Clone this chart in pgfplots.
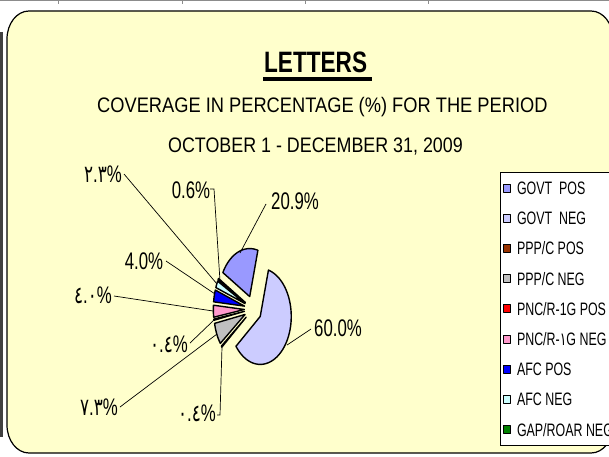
\documentclass[border=0pt]{standalone}
\usepackage{graphicx}
\usepackage{fontspec}
\setmainfont{Liberation Sans}
\newfontfamily\arabicfont[Script=Arabic]{DejaVu Sans}
\usepackage{pgfplots}
\pgfplotsset{compat=1.18}
\definecolor{bgyellow}{HTML}{FFFFCC}
\definecolor{govtpos}{HTML}{9999FF}
\definecolor{govtneg}{HTML}{CCCCFF}
\definecolor{pppcpos}{HTML}{993300}
\definecolor{pppcneg}{HTML}{C0C0C0}
\definecolor{pncpos}{HTML}{FF0000}
\definecolor{pncneg}{HTML}{FF99CC}
\definecolor{afcpos}{HTML}{0000FF}
\definecolor{afcneg}{HTML}{CCFFFF}
\definecolor{gapneg}{HTML}{008000}
% pie geometry (1pt = 1px)
\def\pcx{253}\def\pcy{147}\def\pra{31}\def\prb{48}\def\pex{0.28}\def\ptot{99.9}\def\pstart{150}
\def\cum{0}
\newcommand\pieslice[3]{%
  \pgfmathsetmacro\sA{\pstart-\cum/\ptot*360}%
  \pgfmathsetmacro\cum{\cum+#2}%
  \pgfmathsetmacro\sB{\pstart-\cum/\ptot*360}%
  \pgfmathsetmacro\sM{(\sA+\sB)/2}%
  \pgfmathsetmacro\sX{\pcx+\pex*\pra*cos(\sM)}%
  \pgfmathsetmacro\sY{\pcy+\pex*\prb*sin(\sM)}%
  \edef\tmp{\noexpand\addplot[draw=black,line width=1.4pt,line join=round,fill=#1,domain=\sB:\sA,samples=60] ({\sX+\pra*cos(x)},{\sY+\prb*sin(x)}) -- (axis cs:\sX,\sY) -- cycle;}%
  \tmp
  \addlegendentry{\scalebox{0.69}[1]{#3}}%
}
\newcommand\ar[1]{{\arabicfont #1}}
\newcommand\plab[3]{\node[font=\fontsize{24}{26}\selectfont, xscale=0.7, inner sep=0pt] at (#1,456-#2) {#3};}
\begin{document}
\begin{tikzpicture}[x=1pt,y=1pt]
\useasboundingbox (0,0) rectangle (609,456);
\clip (0,0) rectangle (609,456);
\fill[white] (0,0) rectangle (609,456);
\draw[black!45, line width=1.2pt] (0,455.4) -- (609,455.4);
\foreach \xx in {58,182,305,428} \draw[black!45, line width=0.8pt] (\xx,456) -- (\xx,452);
\draw[black!75, line width=2.5pt] (1.3,456-32) -- (1.3,456-437);
% background box
\filldraw[fill=bgyellow, draw=black, line width=1.2pt]
  (29,445) -- (591,445) arc[start angle=90,end angle=0,x radius=22,y radius=28]
  -- (613,31) arc[start angle=0,end angle=-90,x radius=22,y radius=28]
  -- (29,3) arc[start angle=270,end angle=180,x radius=22,y radius=28]
  -- (7,417) arc[start angle=180,end angle=90,x radius=22,y radius=28] -- cycle;
% titles
\node[anchor=base west, xscale=0.766, font=\fontsize{29.5}{32}\selectfont\bfseries, inner sep=0pt] at (264,456-73) {LETTERS};
\fill (263.3,456-81.5) rectangle (371.7,456-77);
\node[anchor=base west, xscale=0.87, font=\fontsize{21}{24}\selectfont, inner sep=0pt] at (97,456-112) {COVERAGE IN PERCENTAGE (\%) FOR THE PERIOD};
\node[anchor=base west, xscale=0.851, font=\fontsize{21}{24}\selectfont, inner sep=0pt] at (168,456-152) {OCTOBER 1 - DECEMBER 31, 2009};
\begin{axis}[
  x=1pt, y=1pt, xmin=0, xmax=609, ymin=0, ymax=456,
  at={(0pt,0pt)}, anchor=south west, hide axis, clip=false,
  legend cell align=left,
  legend image code/.code={\draw[#1,line width=0.6pt] (0pt,-4pt) rectangle (7pt,4pt);},
  legend style={at={(0.82102,0.62281)}, anchor=north west, draw=black, line width=0.8pt, fill=white,
    font=\fontsize{18}{20}\selectfont, inner xsep=3pt, inner ysep=9pt, row sep=17.2pt, column sep=6pt,
    nodes={inner sep=0pt, text height=13pt, text depth=0pt}},
]
\pieslice{govtpos}{20.9}{GOVT\ \ POS}
\pieslice{govtneg}{60.0}{GOVT\ \ NEG}
\pieslice{pppcpos}{0.4}{PPP/C POS}
\pieslice{pppcneg}{7.3}{PPP/C NEG}
\pieslice{pncpos}{0.4}{PNC/R-1G POS}
\pieslice{pncneg}{4.0}{PNC/R-\ar{١}G NEG}
\pieslice{afcpos}{4.0}{AFC POS}
\pieslice{afcneg}{2.3}{AFC NEG}
\pieslice{gapneg}{0.6}{GAP/ROAR NEG}
\end{axis}
% leader lines
\begin{scope}[line width=0.7pt]
\draw (266,456-204) -- (240,456-253);
\draw (311,456-329) -- (287,456-345);
\draw (210,456-189) -- (214,456-189) -- (220,456-281);
\draw (124,456-174) -- (217,456-284);
\draw (166,456-261) -- (215,456-294);
\draw (114,456-296) -- (213,456-311);
\draw (190,456-343) -- (214,456-320);
\draw (120,456-407) -- (217,456-334);
\draw (217,456-415) -- (220,456-415) -- (222,456-347);
\end{scope}
\plab{295}{201}{20.9\%}
\plab{338}{328}{60.0\%}
\plab{191}{190}{0.6\%}
\plab{103}{174}{\ar{٢}.\ar{٣}\%}
\plab{144}{261}{4.0\%}
\plab{93}{295}{\ar{٤}.\ar{٠}\%}
\plab{169}{344}{\ar{٠}.\ar{٤}\%}
\plab{99}{407}{\ar{٧}.\ar{٣}\%}
\plab{197}{413}{\ar{٠}.\ar{٤}\%}
\end{tikzpicture}
\end{document}
